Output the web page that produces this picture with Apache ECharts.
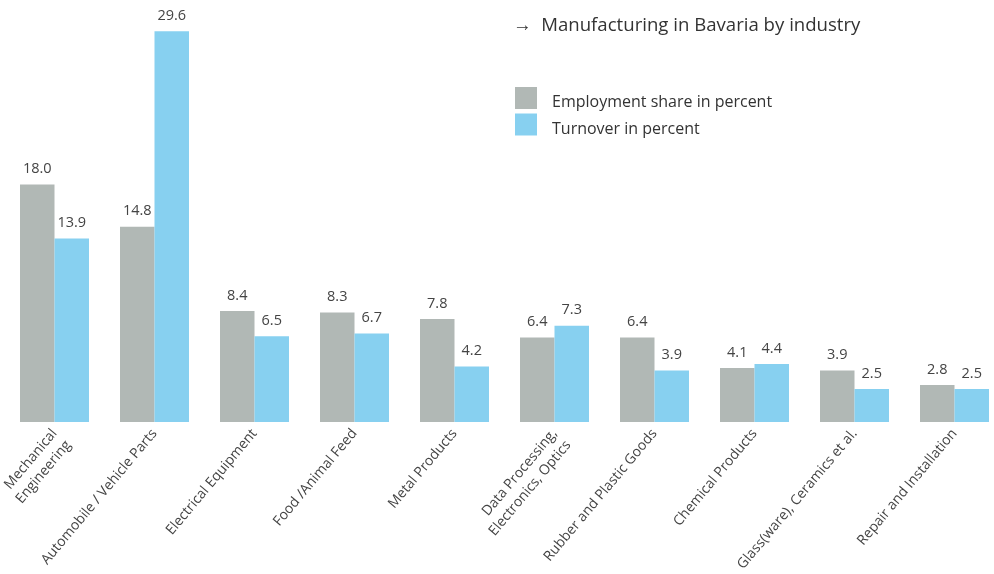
<!DOCTYPE html>
<html><head><meta charset="utf-8">
<script src="https://cdn.jsdelivr.net/npm/echarts@6/dist/echarts.min.js"></script>
<style>html,body{margin:0;padding:0;background:#fff}#c{width:994px;height:574px}</style>
</head><body><div id="c"></div>
<script>
const categories = ["Mechanical\nEngineering","Automobile / Vehicle Parts","Electrical Equipment","Food /Animal Feed","Metal Products","Data Processing,\nElectronics, Optics","Rubber and Plastic Goods","Chemical Products","Glass(ware), Ceramics et al.","Repair and Installation"];
const employment = [18.0,14.8,8.4,8.3,7.8,6.4,6.4,4.1,3.9,2.8];
const turnover = [13.9,29.6,6.5,6.7,4.2,7.3,3.9,4.4,2.5,2.5];
const seriesNames = ["Employment share in percent","Turnover in percent"];
const titleText = "\u2192  Manufacturing in Bavaria by industry";

const font = "'Open Sans', sans-serif";
const chart = echarts.init(document.getElementById('c'));
const lbl = {show:true, position:'top', distance:8, color:'#444', fontSize:14.5, fontFamily:font, formatter: p => p.value.toFixed(1)};
chart.setOption({
  animation:false,
  title:{text:titleText, left:508, top:11, textStyle:{fontFamily:font, fontSize:18.6, fontWeight:'normal', color:'#333'}},
  legend:{orient:'vertical', left:515, top:87, padding:0, itemWidth:22, itemHeight:22, itemGap:3, icon:'rect',
    formatter: n => '{t|' + n + '}',
    textStyle:{fontFamily:font, fontSize:16, color:'#333', rich:{t:{fontFamily:font, fontSize:16, color:'#333', padding:[9,0,0,10]}}}, data:seriesNames},
  grid:{left:4.5, width:1000, top:26, bottom:152, containLabel:false, outerBoundsMode:'none'},
  xAxis:{type:'category', data:categories, axisLine:{show:false}, axisTick:{show:false},
    axisLabel:{rotate:50, interval:0, margin:9, color:'#444', fontSize:14, fontFamily:font, lineHeight:18,
      formatter: v => v.indexOf('\n') >= 0 ? ' \n' + v : v}},
  yAxis:{type:'value', min:0, max:30, show:false, splitLine:{show:false}},
  series:[
    {name:seriesNames[0], type:'bar', data:employment, barWidth:34.5, barGap:'0%', itemStyle:{color:'#b1b8b5'}, label:lbl},
    {name:seriesNames[1], type:'bar', data:turnover, barWidth:34.5, barGap:'0%', itemStyle:{color:'#87d0f0'}, label:lbl}
  ]
});
</script></body></html>
